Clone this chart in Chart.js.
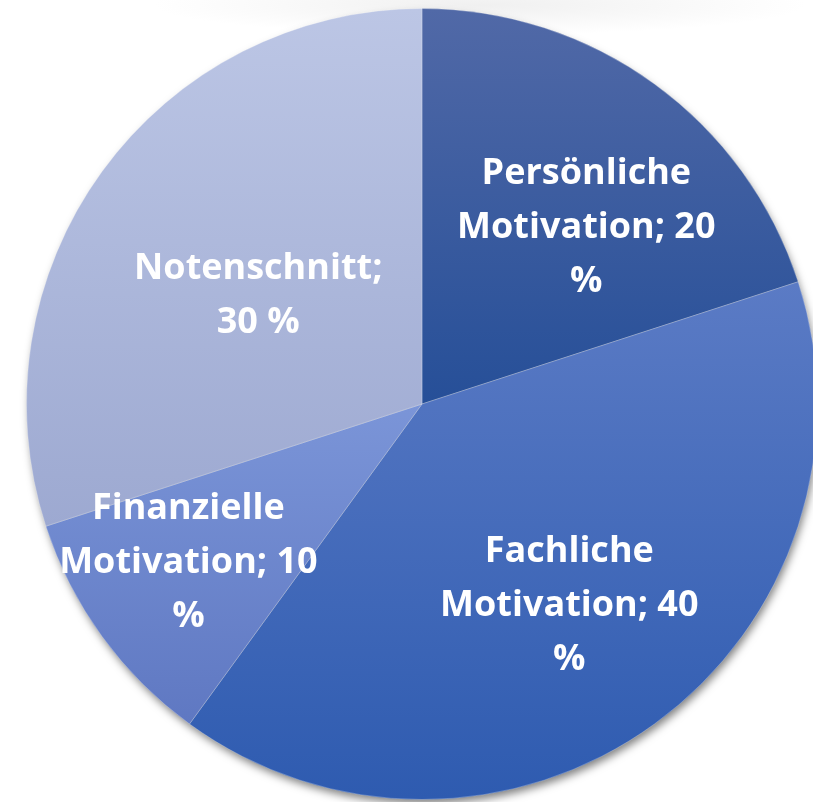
<!DOCTYPE html>
<html>
<head>
<meta charset="utf-8">
<script src="https://cdn.jsdelivr.net/npm/chart.js@4.4.1/dist/chart.umd.min.js"></script>
<style>
  html, body { margin: 0; padding: 0; width: 813px; height: 802px; overflow: hidden; background: #fff; }
  #wrap { position: absolute; left: 0; top: 0; width: 844px; height: 802px; }
  #haze { position: absolute; left: 150px; top: -25px; width: 660px; height: 60px;
          background: radial-gradient(ellipse at center, rgba(205,205,205,0.3), rgba(255,255,255,0) 70%); }
</style>
</head>
<body>
<div id="haze"></div>
<div id="wrap"><canvas id="pie"></canvas></div>
<script>
var labels = ['Persönliche Motivation', 'Fachliche Motivation', 'Finanzielle Motivation', 'Notenschnitt'];
var values = [20, 40, 10, 30];
// label lines as they wrap in the picture
var labelLines = [
    ['Persönliche', 'Motivation; 20', '%'],
    ['Fachliche', 'Motivation; 40', '%'],
    ['Finanzielle', 'Motivation; 10', '%'],
    ['Notenschnitt;', '30 %']
];
var gradTop = ['#5169a7', '#5b7bc5', '#7b95d8', '#bcc6e5'];
var gradBottom = ['#264f98', '#2e5bb0', '#5f78c2', '#9da9d1'];
// label placement: fraction of radius, angle shift in degrees
var labelRadius = [0.615, 0.626, 0.71, 0.5];
var labelShift = [6.5, -0.5, 2.3, -1.9];

var sliceGradients = {
    id: 'sliceGradients',
    beforeDatasetsDraw: function (chart) {
        var ctx = chart.ctx;
        var meta = chart.getDatasetMeta(0);
        var first = meta.data[0];
        // shadow under the whole pie
        ctx.save();
        ctx.shadowColor = 'rgba(0,0,0,0.5)';
        ctx.shadowBlur = 9;
        ctx.shadowOffsetX = 2;
        ctx.shadowOffsetY = 5;
        ctx.fillStyle = '#888';
        ctx.beginPath();
        ctx.arc(first.x, first.y, first.outerRadius - 1, 0, Math.PI * 2);
        ctx.fill();
        ctx.restore();

        meta.data.forEach(function (arc, i) {
            var top = arc.y, bottom = arc.y;
            for (var k = 0; k <= 60; k++) {
                var a = arc.startAngle + (arc.endAngle - arc.startAngle) * k / 60;
                var y = arc.y + Math.sin(a) * arc.outerRadius;
                if (y < top) top = y;
                if (y > bottom) bottom = y;
            }
            var g = ctx.createLinearGradient(0, top, 0, bottom);
            g.addColorStop(0, gradTop[i]);
            g.addColorStop(1, gradBottom[i]);
            arc.options.backgroundColor = g;
        });
    },
    afterDatasetsDraw: function (chart) {
        var ctx = chart.ctx;
        var meta = chart.getDatasetMeta(0);
        ctx.save();
        ctx.fillStyle = '#ffffff';
        ctx.font = 'bold 36px "Open Sans", sans-serif';
        ctx.textAlign = 'center';
        ctx.textBaseline = 'middle';
        meta.data.forEach(function (arc, i) {
            var mid = (arc.startAngle + arc.endAngle) / 2 + labelShift[i] * Math.PI / 180;
            var r = arc.outerRadius * labelRadius[i];
            var cx = arc.x + Math.cos(mid) * r;
            var cy = arc.y + Math.sin(mid) * r + 3;
            var lines = labelLines[i];
            var lh = 54;
            var y0 = cy - (lines.length - 1) * lh / 2;
            lines.forEach(function (t, j) {
                ctx.fillText(t, cx, y0 + j * lh);
            });
        });
        ctx.restore();
    }
};

new Chart(document.getElementById('pie'), {
    type: 'pie',
    data: {
        labels: labels,
        datasets: [{
            data: values,
            backgroundColor: gradTop,
            borderColor: 'rgba(255,255,255,0.25)',
            borderWidth: 1
        }]
    },
    options: {
        responsive: true,
        maintainAspectRatio: false,
        animation: false,
        layout: { padding: { top: 8, bottom: 2 } },
        plugins: {
            legend: { display: false },
            tooltip: { enabled: false }
        }
    },
    plugins: [sliceGradients]
});
</script>
</body>
</html>
